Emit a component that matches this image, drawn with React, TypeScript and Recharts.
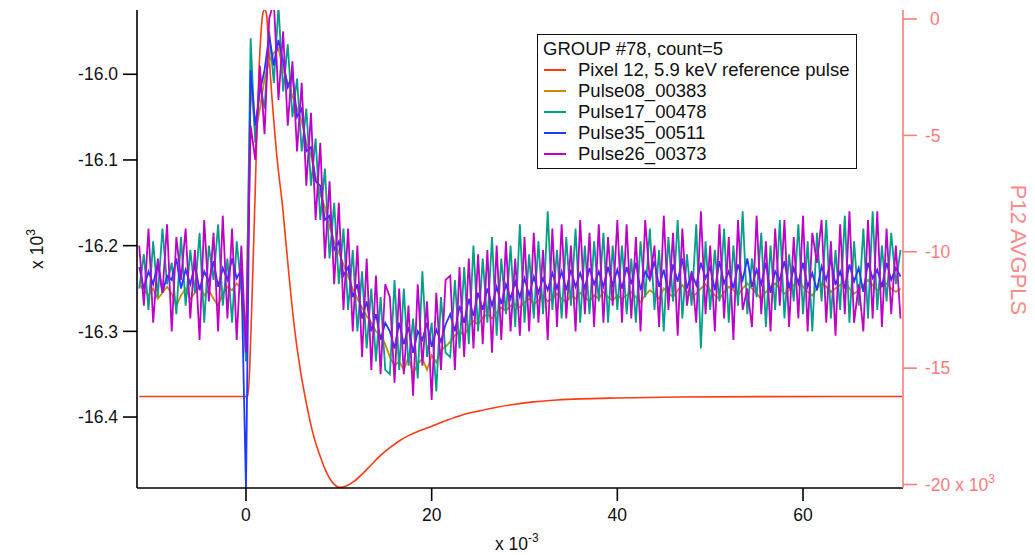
import React from "react";
import { LineChart, Line, XAxis, YAxis } from "recharts";

// sampling grid of the noisy traces (ms)
const T0 = -11.5;
const DT = 0.5;

const PULSE26 = [
  -16200, -16270, -16180, -16290, -16215, -16255, -16175, -16300, -16190, -16240, -16180, -16285, -16205, -16310, -16170, -16265, -16185, -16300, -16165, -16285, -16180, -16310, -16200,
  -16325,
  -16060, -16100, -15990, -16070, -15935, -15915, -16030, -15950, -16060, -15985, -16090, -16010, -16130, -16045, -16170, -16080, -16215, -16125, -16245, -16150, -16275, -16180, -16300, -16200, -16330, -16215, -16345, -16235, -16350, -16245,
  -16260, -16360, -16250, -16350, -16270, -16375, -16245, -16340, -16265, -16380, -16255, -16345, -16240,
  -16235, -16345, -16225, -16330, -16215, -16320, -16210, -16315, -16205, -16325, -16200, -16310, -16195, -16300, -16215, -16305, -16190, -16300, -16185, -16290, -16205, -16310, -16180, -16295, -16175, -16285, -16200, -16300, -16170, -16280, -16185, -16295, -16175, -16290, -16190, -16270, -16170,
  -16290, -16175, -16285, -16190, -16300, -16170, -16240, -16200, -16295, -16165, -16275, -16185, -16305, -16180, -16270, -16230, -16290, -16160, -16280, -16200, -16300, -16175, -16285, -16190, -16310, -16170, -16275, -16250, -16295, -16165, -16280, -16195, -16300, -16180, -16270, -16170, -16295, -16190, -16285, -16165, -16300, -16185, -16220, -16170, -16290, -16195, -16305, -16175, -16280, -16160, -16290, -16245, -16300, -16170, -16285, -16160, -16295, -16180, -16280, -16200,
  -16285,
];

const PULSE17 = [
  -16250, -16210, -16275, -16195, -16260, -16180, -16245, -16220, -16280, -16190, -16270, -16205, -16255, -16185, -16290, -16200, -16240, -16175, -16270, -16215, -16290, -16195, -16250,
  -16335,
  -15958, -16080, -16010, -16040, -15950, -16010, -15920, -16020, -15965, -16050, -16005, -16090, -16040, -16130, -16075, -16170, -16110, -16215, -16150, -16245, -16180, -16275, -16205, -16300, -16230, -16320, -16250, -16335, -16260, -16345,
  -16350, -16240, -16345, -16250, -16340, -16285, -16355, -16230, -16330, -16290, -16370, -16260, -16325,
  -16330, -16240, -16320, -16225, -16315, -16200, -16300, -16215, -16290, -16190, -16305, -16215, -16280, -16200, -16295, -16175, -16290, -16210, -16285, -16195, -16280, -16160, -16275, -16205, -16285, -16190, -16270, -16180, -16290, -16200, -16280, -16195, -16265, -16185, -16290, -16200, -16275,
  -16200, -16280, -16215, -16290, -16195, -16260, -16180, -16275, -16205, -16300, -16190, -16265, -16170, -16285, -16210, -16270, -16175, -16320, -16195, -16275, -16205, -16265, -16180, -16290, -16200, -16270, -16160, -16280, -16215, -16260, -16185, -16295, -16200, -16275, -16170, -16285, -16210, -16265, -16175, -16280, -16195, -16300, -16185, -16265, -16170, -16285, -16205, -16275, -16165, -16290, -16195, -16270, -16180, -16285, -16160, -16275, -16200, -16265, -16185, -16245,
  -16205,
];

const PULSE35 = [
  -16225, -16250, -16230, -16245, -16220, -16255, -16235, -16240, -16215, -16250, -16228, -16245, -16222, -16252, -16230, -16242, -16218, -16248, -16226, -16240, -16215, -16238, -16228,
  -16485,
  -15995, -16060, -16020, -15995, -15955, -15990, -15960, -15985, -16015, -16000, -16050, -16040, -16090, -16085, -16125, -16130, -16170, -16165, -16205, -16195, -16235, -16225, -16260, -16245, -16285, -16265, -16300, -16280, -16310, -16290,
  -16300, -16320, -16290, -16315, -16295, -16325, -16300, -16310, -16290, -16318, -16298, -16312, -16292,
  -16280, -16300, -16270, -16290, -16262, -16282, -16255, -16275, -16250, -16270, -16248, -16268, -16245, -16262, -16242, -16260, -16238, -16258, -16236, -16255, -16238, -16252, -16232, -16250, -16230, -16252, -16228, -16248, -16232, -16250, -16226, -16245, -16230, -16248, -16225, -16246, -16228,
  -16250, -16225, -16245, -16220, -16252, -16230, -16240, -16218, -16248, -16228, -16255, -16222, -16242, -16215, -16250, -16232, -16246, -16220, -16238, -16225, -16252, -16218, -16244, -16230, -16250, -16222, -16240, -16215, -16248, -16228, -16245, -16220, -16255, -16230, -16240, -16218, -16250, -16226, -16244, -16220, -16248, -16232, -16252, -16224, -16240, -16216, -16246, -16230, -16250, -16222, -16242, -16226, -16254, -16220, -16238, -16228, -16248, -16220, -16240, -16226,
  -16236,
];

const PULSE08 = [
  -16245, -16252, -16258, -16250, -16262, -16255, -16248, -16256, -16270, -16258, -16250, -16262, -16255, -16247, -16258, -16252, -16262, -16270, -16256, -16248, -16252, -16244, -16250,
  -16300,
  -16010, -16070, -16040, -16005, -15985, -15975, -15970, -15995, -16010, -16025, -16040, -16055, -16080, -16095, -16120, -16140, -16155, -16178, -16195, -16208, -16222, -16236, -16250, -16262, -16272, -16282, -16290, -16300, -16305, -16315,
  -16330, -16340, -16335, -16345, -16330, -16350, -16338, -16332, -16345, -16328, -16336, -16322, -16318,
  -16312, -16305, -16300, -16305, -16295, -16288, -16292, -16284, -16280, -16285, -16278, -16272, -16276, -16270, -16268, -16272, -16266, -16262, -16268, -16264, -16258, -16265, -16262, -16256, -16262, -16266, -16258, -16262, -16255, -16260, -16265, -16258, -16262, -16254, -16260, -16264, -16258,
  -16262, -16258, -16254, -16260, -16266, -16258, -16252, -16256, -16262, -16250, -16255, -16260, -16252, -16246, -16254, -16260, -16256, -16250, -16245, -16252, -16258, -16262, -16254, -16248, -16252, -16258, -16250, -16244, -16250, -16256, -16262, -16254, -16248, -16244, -16250, -16256, -16252, -16246, -16240, -16248, -16254, -16258, -16250, -16244, -16248, -16254, -16250, -16246, -16242, -16250, -16256, -16252, -16246, -16240, -16246, -16252, -16248, -16244, -16250, -16254,
  -16250,
];

// reference pulse (right axis)
const REF_T = [-11.5, 0.2, 0.4, 0.6, 0.8, 1.0, 1.2, 1.4, 1.6, 1.8, 2.0, 2.2, 2.4, 2.6, 2.8, 3.0, 3.3, 3.6, 3.9, 4.3, 4.7, 5.2, 5.8, 6.5, 7.2, 8.0, 8.7, 9.4, 10.1, 10.8, 11.6, 12.6, 13.5, 14.5, 15.5, 16.5, 17.5, 18.5, 19.8, 21.5, 23.3, 25.0, 27.0, 29.0, 31.0, 33.5, 36.0, 40.0, 46.7, 55.0, 70.7];
const REF_V = [-16220, -16220, -15000, -12600, -10000, -7300, -4500, -2200, -700, 200, 400, 250, -900, -2250, -3400, -4400, -5800, -6900, -7900, -9600, -11300, -13200, -14950, -16500, -17780, -18800, -19500, -19950, -20120, -20060, -19880, -19520, -19150, -18750, -18420, -18130, -17900, -17720, -17530, -17260, -17010, -16850, -16680, -16550, -16450, -16370, -16320, -16280, -16240, -16225, -16220];

const X_TICKS = [0, 20, 40, 60];
const LEFT_TICKS = [-16400, -16300, -16200, -16100, -16000];
const RIGHT_TICKS = [0, -5000, -10000, -15000, -20000];

const LEGEND_TITLE = "GROUP #78, count=5";
const RED = "#ff3a12";
const RIGHT_COLOR = "#ff7b7b";

const grid = (vals: number[]) => vals.map((v, i) => ({ t: T0 + i * DT, v }));
const refData = REF_T.map((t, i) => ({ t, v: REF_V[i] }));

const SERIES = [
  { name: "Pixel 12, 5.9 keV reference pulse", color: RED, data: refData, axis: "right" },
  { name: "Pulse08_00383", color: "#cc8a00", data: grid(PULSE08), axis: "left" },
  { name: "Pulse17_00478", color: "#00a08a", data: grid(PULSE17), axis: "left" },
  { name: "Pulse35_00511", color: "#1e3cff", data: grid(PULSE35), axis: "left" },
  { name: "Pulse26_00373", color: "#c000c8", data: grid(PULSE26), axis: "left" },
];

const FONT = '"Liberation Sans", Arial, Helvetica, sans-serif';

const RightTick = (props: any) => {
  const { x, y, payload } = props;
  const v = payload.value / 1000;
  return (
    <text x={x + (v === 0 ? 5 : 0)} y={y} dy="0.355em" textAnchor="start" fill={RIGHT_COLOR} fontSize={17.5} fontFamily={FONT}>
      {String(v)}
      {v === -20 ? (
        <>
          <tspan> x 10</tspan>
          <tspan dy={-8} fontSize={12}>3</tspan>
        </>
      ) : null}
    </text>
  );
};

export default function App() {
  return (
    <div style={{ position: "relative", width: 1027, height: 547, fontFamily: FONT }}>
      <LineChart width={1027} height={547} margin={{ top: 2, right: 0, bottom: 0, left: 0 }}>
        <XAxis
          type="number"
          dataKey="t"
          domain={[-11.74, 70.77]}
          allowDataOverflow
          ticks={X_TICKS}
          height={67}
          tickSize={13}
          tickMargin={8}
          axisLine={{ stroke: "#000", strokeWidth: 1.6 }}
          tickLine={{ stroke: "#000", strokeWidth: 1.6 }}
          tick={{ fill: "#111", fontSize: 17.5 }}
        />
        <YAxis
          yAxisId="left"
          orientation="left"
          type="number"
          width={129}
          domain={[-16482.8, -15925]}
          allowDataOverflow
          ticks={LEFT_TICKS}
          tickFormatter={(v: number) => (v / 1000).toFixed(1)}
          tickSize={14}
          tickMargin={5}
          axisLine={{ stroke: "#000", strokeWidth: 1.6 }}
          tickLine={{ stroke: "#000", strokeWidth: 1.6 }}
          tick={{ fill: "#111", fontSize: 17.5 }}
        />
        <YAxis
          yAxisId="right"
          orientation="right"
          type="number"
          width={132}
          domain={[-20150, 387]}
          allowDataOverflow
          ticks={RIGHT_TICKS}
          tickSize={14}
          tickMargin={8}
          axisLine={{ stroke: RIGHT_COLOR, strokeWidth: 1.6 }}
          tickLine={{ stroke: RIGHT_COLOR, strokeWidth: 1.6 }}
          tick={<RightTick />}
        />
        {SERIES.map((s) => (
          <Line
            key={s.name}
            yAxisId={s.axis}
            data={s.data}
            dataKey="v"
            name={s.name}
            type={s.axis === "right" ? "monotone" : "linear"}
            stroke={s.color}
            strokeWidth={s.axis === "right" ? 1.6 : 1.8}
            dot={false}
            activeDot={false}
            isAnimationActive={false}
          />
        ))}
      </LineChart>

      <svg width={1027} height={547} style={{ position: "absolute", left: 0, top: 0, pointerEvents: "none" }}>
        <text x={487} y={542} fontSize={17.5} fill="#111" fontFamily={FONT}>
          x 10<tspan dy={-8} fontSize={12}>-3</tspan>
        </text>
        <text transform="translate(35,241) rotate(-90)" textAnchor="middle" fontSize={17.5} fill="#111" fontFamily={FONT}>
          x 10<tspan dy={-8} fontSize={12}>3</tspan>
        </text>
        <text transform="translate(1003,242) rotate(90)" textAnchor="middle" fontSize={22} fill="#ff8a8a" fontFamily={FONT}>
          P12 AVGPLS
        </text>
      </svg>

      <div
        style={{
          position: "absolute",
          left: 529,
          top: 26,
          width: 318,
          height: 130,
          border: "1.5px solid #111",
          background: "#fff",
          fontSize: 18.5,
          lineHeight: "21px",
          color: "#111",
          paddingTop: 3,
          boxSizing: "content-box",
        }}
      >
        <div style={{ paddingLeft: 5, whiteSpace: "nowrap" }}>{LEGEND_TITLE}</div>
        {SERIES.map((s) => (
          <div key={s.name} style={{ position: "relative", height: 21, whiteSpace: "nowrap" }}>
            <span style={{ position: "absolute", left: 6, top: 10, width: 22, height: 2, background: s.color }} />
            <span style={{ position: "absolute", left: 40 }}>{s.name}</span>
          </div>
        ))}
      </div>
    </div>
  );
}
